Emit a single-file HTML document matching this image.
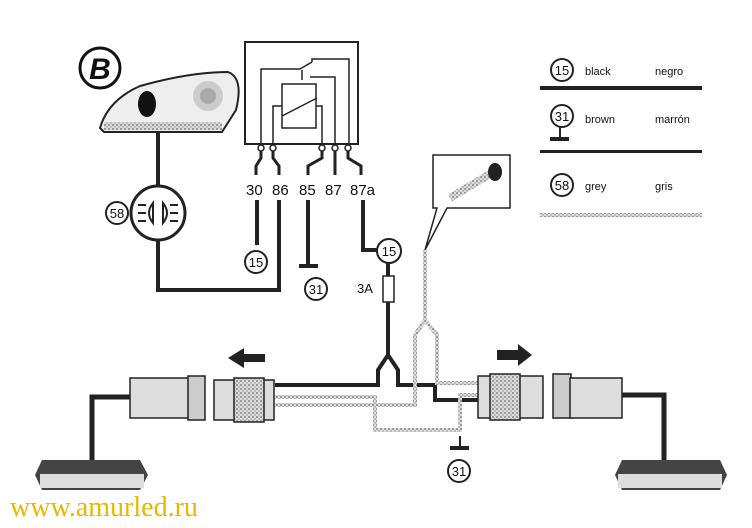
<!DOCTYPE html>
<html><head><style>
body{margin:0;background:#fff;width:752px;height:528px;overflow:hidden}
svg{display:block}
text{font-family:"Liberation Sans",sans-serif;fill:#111}
</style></head><body>
<svg width="752" height="528" viewBox="0 0 752 528">
<defs>
<pattern id="gr" width="4" height="4" patternUnits="userSpaceOnUse"><rect width="4" height="4" fill="#ddd"/><rect width="2" height="2" fill="#999"/><rect x="2" y="2" width="2" height="2" fill="#bbb"/></pattern>
</defs>
<circle cx="100" cy="68" r="20" fill="#fff" stroke="#111" stroke-width="3"/>
<text x="100" y="79" font-size="30" font-weight="bold" font-style="italic" text-anchor="middle">B</text>
<path d="M100 128 Q108 100 140 86 Q190 72 228 72 Q244 78 236 110 L222 132 L104 132 Z" fill="#eee" stroke="#222" stroke-width="2"/>
<ellipse cx="147" cy="104" rx="9" ry="13" fill="#111"/>
<circle cx="208" cy="96" r="15" fill="#ccc"/><circle cx="208" cy="96" r="8" fill="#aaa"/>
<rect x="104" y="122" width="118" height="8" fill="url(#gr)"/>
<g stroke="#222" stroke-width="4" fill="none">
<path d="M158 132 V186"/>
<path d="M158 240 V290 H279 V200"/>
<path d="M257 200 V245"/>
<path d="M308 200 V264"/>
<path d="M363 200 V250 H378"/>
<path d="M388 262 V355 L378 370 V385 H275"/>
<path d="M388 355 L398 370 V385 H435 V400 H480"/>
</g>
<circle cx="158" cy="213" r="27" fill="#fff" stroke="#222" stroke-width="3"/>
<path d="M153 203 Q145 213 153 223 Z M163 203 Q171 213 163 223 Z" fill="none" stroke="#222" stroke-width="2"/>
<g stroke="#222" stroke-width="2"><path d="M138 205h8M138 213h8M138 221h8M170 205h8M170 213h8M170 221h8"/></g>
<circle cx="117" cy="213" r="11" fill="#fff" stroke="#222" stroke-width="2"/><text x="117" y="218" font-size="13" text-anchor="middle">58</text>
<rect x="245" y="42" width="113" height="102" fill="#fff" stroke="#222" stroke-width="2"/>
<g stroke="#222" stroke-width="1.5" fill="none">
<path d="M261 143 V69 H300 L312 62 M312 62 V59 H349 V143"/>
<path d="M302 70 V80 M310 77 H335 V143"/>
<rect x="282" y="84" width="34" height="44"/>
<path d="M282 116 L317 98"/>
<path d="M273 143 V106 H282 M316 106 H322 V143"/>
</g>
<g fill="#fff" stroke="#222" stroke-width="1.5">
<circle cx="261" cy="148" r="3"/><circle cx="273" cy="148" r="3"/><circle cx="322" cy="148" r="3"/><circle cx="335" cy="148" r="3"/><circle cx="348" cy="148" r="3"/></g>
<g stroke="#222" stroke-width="3" fill="none">
<path d="M261 151 V158 L256 166 V175"/><path d="M273 151 V158 L279 166 V175"/>
<path d="M322 151 V158 L308 166 V175"/><path d="M335 151 V175"/><path d="M348 151 V158 L361 166 V175"/></g>
<text x="246" y="195" font-size="15">30</text><text x="272" y="195" font-size="15">86</text>
<text x="299" y="195" font-size="15">85</text><text x="325" y="195" font-size="15">87</text><text x="350" y="195" font-size="15">87a</text>
<circle cx="256" cy="262" r="11" fill="#fff" stroke="#222" stroke-width="2"/><text x="256" y="267" font-size="13" text-anchor="middle">15</text>
<rect x="299" y="264" width="19" height="4" fill="#222"/>
<circle cx="316" cy="289" r="11" fill="#fff" stroke="#222" stroke-width="2"/><text x="316" y="294" font-size="13" text-anchor="middle">31</text>
<circle cx="389" cy="251" r="12" fill="#fff" stroke="#222" stroke-width="2"/><text x="389" y="256" font-size="13" text-anchor="middle">15</text>
<rect x="383" y="276" width="11" height="26" fill="#fff" stroke="#222" stroke-width="1.5"/>
<text x="357" y="293" font-size="13">3A</text>
<path d="M433 155 H510 V208 H447 L425 250 L437 208 H433 Z" fill="#fff" stroke="#222" stroke-width="1.5"/>
<path d="M450 198 L500 168" stroke="url(#gr)" stroke-width="8"/>
<ellipse cx="495" cy="172" rx="7" ry="9" fill="#222"/>
<g stroke="url(#gr)" stroke-width="4" fill="none">
<path d="M425 250 V320 L415 335 V405 H275"/>
<path d="M425 320 L437 335 V383 H480"/>
<path d="M275 397 H375 V430 H460 V395 H480"/>
</g>
<path d="M460 436 V447" stroke="#222" stroke-width="2"/><rect x="450" y="446" width="19" height="4" fill="#222"/>
<circle cx="459" cy="471" r="11" fill="#fff" stroke="#222" stroke-width="2"/><text x="459" y="476" font-size="13" text-anchor="middle">31</text>
<path d="M265 354 H244 V348 L228 358 L244 368 V362 H265 Z" fill="#222"/>
<path d="M497 350 H518 V344 L532 355 L518 366 V360 H497 Z" fill="#222"/>
<g stroke="#222" stroke-width="1.5">
<rect x="130" y="378" width="60" height="40" fill="#ddd"/>
<rect x="188" y="376" width="17" height="44" fill="#ccc"/>
<rect x="214" y="380" width="60" height="40" fill="#ddd"/>
<rect x="234" y="378" width="30" height="44" fill="url(#gr)"/>
<rect x="478" y="376" width="65" height="42" fill="#ddd"/>
<rect x="490" y="374" width="30" height="46" fill="url(#gr)"/>
<rect x="553" y="374" width="18" height="44" fill="#ccc"/>
<rect x="570" y="378" width="52" height="40" fill="#ddd"/>
</g>
<g stroke="#222" stroke-width="5" fill="none"><path d="M130 397 H92 V465"/><path d="M622 395 H664 V460"/></g>
<path d="M42 460 H140 L148 475 L140 490 H42 L35 475 Z" fill="#444"/><rect x="40" y="474" width="104" height="14" fill="#ddd"/>
<path d="M622 460 H720 L727 475 L720 490 H622 L615 475 Z" fill="#444"/><rect x="618" y="474" width="104" height="14" fill="#ddd"/>
<circle cx="562" cy="70" r="11" fill="#fff" stroke="#222" stroke-width="2"/><text x="562" y="75" font-size="13" text-anchor="middle">15</text>
<text x="585" y="75" font-size="11">black</text><text x="655" y="75" font-size="11">negro</text>
<rect x="540" y="86" width="162" height="4" fill="#222"/>
<circle cx="562" cy="116" r="11" fill="#fff" stroke="#222" stroke-width="2"/><text x="562" y="121" font-size="13" text-anchor="middle">31</text>
<text x="585" y="123" font-size="11">brown</text><text x="655" y="123" font-size="11">marrón</text>
<path d="M560 127 V138" stroke="#222" stroke-width="2"/><rect x="550" y="137" width="19" height="4" fill="#222"/>
<rect x="540" y="150" width="162" height="3" fill="#222"/>
<circle cx="562" cy="185" r="11" fill="#fff" stroke="#222" stroke-width="2"/><text x="562" y="190" font-size="13" text-anchor="middle">58</text>
<text x="585" y="190" font-size="11">grey</text><text x="655" y="190" font-size="11">gris</text>
<rect x="540" y="213" width="162" height="4" fill="url(#gr)"/>
<text x="10" y="516" font-size="28" style="font-family:'Liberation Serif',serif;fill:#e8b800">www.amurled.ru</text>
</svg>
</body></html>
